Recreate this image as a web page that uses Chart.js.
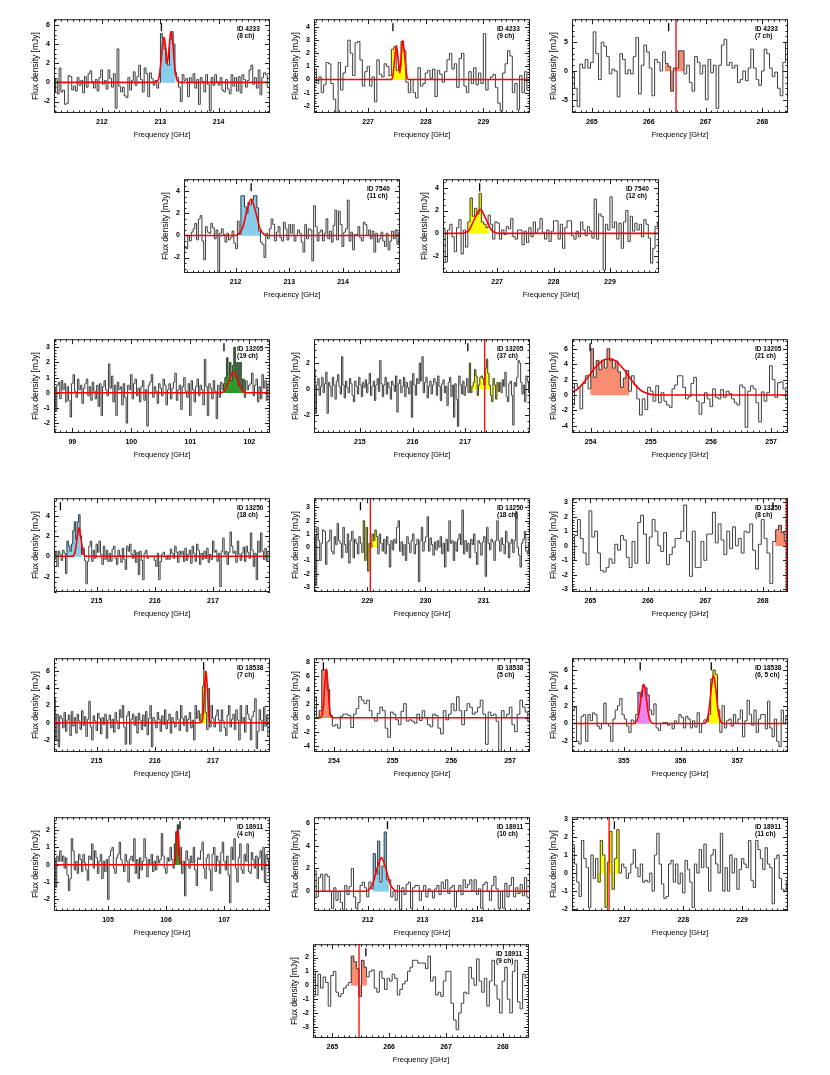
<!DOCTYPE html>
<html>
<head>
<meta charset="utf-8">
<script src="https://cdn.jsdelivr.net/npm/chart.js"></script>
<style>
  body { margin: 0; background: #fff; width: 830px; height: 1075px; position: relative; overflow: hidden; }
  canvas { position: absolute; }
</style>
</head>
<body>
<script>
// ---- spectra (mJy per channel) ----
const spec4233a = [-1.0,0.4,-1.2,1.5,-1.0,-0.8,-2.3,-2.2,0.7,0.6, -0.8,-0.4,-0.9,0.5,-0.3,0.2,-1.1,0.6,-0.5,0.9,
  1.2,0.1,-0.6,0.3,-0.9,0.5,1.3,-0.2,0.2,-0.7, 1.3,0.4,-0.5,0.9,-2.7,3.5,-0.4,-1.0,-0.5,-1.4,
  -1.6,0.5,-0.8,0.2,1.1,-0.3,0.6,1.8,0.3,-1.0, 1.5,0.9,-1.5,1.0,0.4,-0.3,0.2,-0.6,0.0,
  5.1,4.6,3.5,2.0,1.8,4.5,5.3,4.0,
  1.0,0.5,-0.5,-2.0,0.8,0.2,0.4,-1.5,0.5,0.1, 0.9,-0.6,0.3,-2.3,0.5,0.1,-1.0,0.8,-0.2,-3.0,
  0.5,-0.3,0.8,0.1,-0.3,0.5,-0.8,-1.0,0.3,-0.7, -1.2,0.8,-0.4,0.5,-0.9,0.6,-1.1,0.8,0.3,-0.5,
  0.2,1.3,1.8,-0.2,0.5,-0.6,1.3,-1.3,0.5,1.0,0.8,-0.5];
const spec4233b = [0.8,-0.3,0.2,-1.0,-0.4,1.3,1.2,-0.3,-1.5,-2.5, 1.3,-0.8,0.5,1.0,3.0,2.0,0.3,2.8,2.9,1.5,
  -0.5,0.6,1.0,-0.5,0.2,-1.7,1.5,0.4,0.2,1.2, 1.0,0.3,
  2.3,2.5,0.7,1.0,2.9,2.2,
  -0.2,-1.0,0.0,-1.0,-1.4,0.9,-0.5,-0.3,0.5,0.7, 0.1,0.8,-1.3,0.7,0.4,-0.2,0.6,1.5,2.0,0.8,
  1.2,-0.6,1.6,2.0,-0.5,-1.0,0.6,-0.3,0.9,-0.4, 0.5,-0.3,3.5,-0.8,0.0,0.2,0.4,-0.6,-1.8,-2.4,
  0.5,1.2,2.2,1.8,-1.0,-0.3,-2.3,0.3,-1.0,0.6,-0.8];
const spec4233c = [-0.3,-3.0,-6.2,1.2,0.5,2.0,0.5,1.5,6.8,3.0, -1.5,5.0,4.3,2.5,-0.5,0.3,0.0,-4.5,3.0,2.0,
  -0.5,0.2,-0.5,2.5,5.8,-4.0,1.0,4.5,3.3,0.5, -4.3,2.0,1.5,0.0,3.3,1.3,0.8,-3.5,0.5,0.5,
  3.5,3.5,-0.5,1.0,-2.0,-3.5,2.5,1.5,-0.5,1.0, -5.0,2.0,-0.3,1.0,-6.5,1.0,4.5,5.5,1.0,1.5,
  0.5,1.0,-2.0,-1.5,0.0,-1.7,0.5,3.8,0.5,-1.5, -2.5,0.0,3.8,3.0,0.5,-1.0,-0.2,-3.0,-4.3,1.5,5.0];
const spec7540a = [-1.0,-1.2,0.0,-0.5,0.3,0.6,1.1,-0.4,1.5,1.8, -0.5,-2.2,0.8,0.3,0.2,1.1,0.7,-0.3,0.5,-3.3,
  0.2,0.6,0.1,-0.6,0.2,-0.4,-0.2,0.4,-0.7,-1.2, 1.3,0.1,
  3.6,3.6,2.6,2.0,3.0,2.8,3.2,3.6,3.6,2.5,0.4,
  -0.6,-0.8,-2.0,0.2,-0.3,0.6,1.5,1.0,-0.5,0.3, 0.8,-0.2,-0.5,1.2,0.6,-0.4,1.0,0.2,1.0,-0.5,
  0.0,0.5,0.2,-0.6,-1.5,1.0,-0.3,0.6,0.5,-2.3, 2.7,0.8,-0.5,0.3,0.5,-0.5,0.2,1.5,-0.3,0.4,
  -0.6,0.9,2.3,-0.4,2.2,1.0,-1.0,0.3,0.6,3.2, -0.5,0.3,-1.3,0.1,0.1,0.8,-0.2,-0.5,1.2,1.0,
  0.0,0.5,-0.3,0.4,-1.5,0.2,-0.6,-0.3,0.3,-0.5, -1.0,0.2,-1.3,-0.5,0.4,-0.3,0.5,-0.8,0.3];
const spec7540b = [0.3,-2.5,0.3,0.8,-0.3,-1.6,0.5,1.2,-1.8,0.3, -1.2,
  1.0,3.1,1.5,2.2,1.7,3.5,1.0,0.8,0.5,
  1.6,0.8,-0.5,1.0,0.9,-0.5,0.3,-0.1,0.6,0.4, 1.3,-0.3,-0.5,0.3,0.3,-1.0,0.2,-0.8,0.5,-0.3,
  1.0,0.0,0.4,1.3,0.1,-0.5,0.3,-0.7,0.2,1.1, 1.1,-0.5,0.8,-1.3,0.5,1.1,1.1,-0.2,-0.5,0.2,
  -0.3,1.0,0.3,-0.2,0.6,0.2,-0.4,3.0,-0.5,1.7, 1.5,-3.2,0.8,0.3,3.2,0.5,1.0,-0.5,0.9,-1.3,
  1.0,2.0,-0.7,1.5,0.2,0.9,0.3,0.8,-0.3,1.2, 0.8,-0.4,-2.6,-1.3,0.6,0.9];
const spec13205a = [0.3,-1.2,0.5,0.7,-0.4,0.8,0.2,0.6,-0.6,0.4, -0.5,-1.6,0.6,1.2,0.1,-0.3,0.9,0.2,0.5,-0.7,
  0.3,0.6,0.9,-0.2,0.4,-0.5,0.7,0.1,-0.4,0.5, -0.9,0.6,-1.5,0.4,0.8,0.2,-0.2,1.9,0.3,1.1,
  -0.6,0.5,-1.5,0.7,0.2,0.4,-0.8,0.6,-0.3,-2.0, 0.5,0.2,1.2,-0.4,0.6,0.9,-0.2,0.3,-0.6,0.4,
  0.8,-0.5,0.2,-2.2,0.5,0.7,1.2,-0.3,0.4,0.1, -0.7,0.6,0.3,-0.2,0.9,0.5,-0.8,0.2,0.6,-0.4,
  0.3,0.7,1.3,-0.5,0.2,0.5,-1.1,0.4,1.0,0.1, -0.3,0.6,-1.5,0.8,0.2,-0.6,0.4,0.9,-0.2,0.5,
  0.2,-0.8,2.2,0.4,-1.5,0.6,0.3,-0.4,0.8,0.1, -1.7,0.5,-0.3,0.7,0.2,
  0.6,1.0,2.3,1.2,2.0,0.8,1.8,3.0,1.0,2.0,0.5,2.0,0.3,0.9,
  -0.3,0.8,0.2,0.5,0.6,1.3,-0.2,0.5,0.9,-0.6, 0.4,-0.4,1.2,0.3,0.8,-0.5,0.6];
const spec13205b = [1.5,-1.9,0.3,0.8,-0.5,0.2,0.9,-0.3,0.4,1.3, -1.9,0.5,0.2,-0.6,0.9,0.3,-0.8,0.6,1.1,0.2,
  -0.4,2.5,0.3,-0.7,0.6,0.1,-0.3,0.8,0.4,-0.5, -1.0,0.6,0.2,-0.4,0.9,0.3,-0.6,0.5,0.1,0.7,
  -0.3,0.4,1.2,-0.5,0.2,0.6,-0.9,0.3,0.8,-0.2, 2.2,0.4,-0.6,0.3,0.9,-0.4,0.5,0.1,-0.8,0.6,
  0.3,-0.2,1.0,-1.8,0.4,0.7,-0.3,0.2,0.9,-0.6, 0.5,0.1,-0.4,0.6,-2.2,1.2,0.3,-0.5,0.8,0.4,
  2.0,0.6,2.5,-0.3,0.5,0.9,-0.7,0.2,0.6,-0.4, 0.3,0.8,0.5,-0.5,1.0,0.2,-0.9,0.4,0.7,-0.3,
  0.2,-1.3,0.5,0.9,-0.6,0.3,-2.2,0.4,-0.8,-2.9, 1.0,0.3,-0.4,0.6,-0.5,0.2,0.8,-0.3,
  2.0,-0.3,0.2,0.5,1.5,1.0,-0.5,0.3,0.9,1.0,0.8,0.3,1.6,2.3,1.2,0.3,-0.5,-1.0,0.8,0.3,-0.8,0.5,-0.2,
  0.5,-0.3,0.7,0.2,1.3,-0.6,-1.0,0.4,0.6,-0.5, -2.8,0.5,0.2,0.9,2.2,2.0,0.5,-0.4,0.3,-1.0,1.0,0.6,-0.3];
const spec13205c = [-1.3,1.5,1.0,-1.8,1.5,2.5,0.8,
  6.0,2.3,4.5,3.3,4.5,3.5,6.0,4.5,3.5,4.4,3.0,1.0,2.2,3.2,
  0.5,2.5,1.3,-0.5,-2.6,-0.5,-1.9,1.0,0.5,-0.8, 1.2,-1.0,0.3,-0.8,-1.3,-1.6,0.8,1.3,2.5,2.5,
  1.0,-0.5,-0.2,1.5,2.3,-0.8,-2.5,-1.0,0.3,-0.5, -1.5,0.8,-0.3,-0.5,0.7,-0.3,0.5,0.2,-0.5,-1.0,
  -1.3,1.3,1.0,-4.2,0.5,1.2,0.8,-1.0,-3.5,0.4, -0.8,0.3,3.8,2.0,-0.3,1.6,1.7,0.8,-0.5];
const spec13250a = [-0.3,0.5,-1.0,0.5,0.2,-0.4,0.6,0.3,-1.7,
  1.5,1.0,0.5,1.2,2.5,3.4,1.7,3.4,4.1,2.0,
  0.2,0.8,-0.4,-2.7,-0.5,1.0,1.5,-0.5,0.6,-0.2, 1.2,0.4,1.5,0.2,-0.8,1.0,-0.3,0.6,-0.5,0.3,
  -0.5,0.7,1.0,-0.2,-0.8,0.6,0.1,-0.6,0.8,-0.3, -1.3,1.0,0.5,1.2,0.2,-0.2,0.6,-0.6,0.4,-1.8,
  0.5,-0.4,-2.3,0.3,0.6,-0.2,0.0,0.0,0.0,0.0, -0.4,-1.0,0.3,-2.3,-0.5,0.2,0.4,0.0,-0.3,0.1,
  -0.3,0.7,0.3,-0.2,1.0,0.4,-0.6,0.5,0.2,0.5, -0.5,0.8,-0.4,0.2,0.6,-0.7,1.0,0.3,-0.5,1.2,
  0.6,-0.8,0.3,-0.3,0.5,-0.2,0.8,-0.6,0.2,-0.3, 1.5,0.4,0.6,-0.5,0.3,-3.0,0.5,1.8,0.2,0.5,
  -0.8,0.4,2.4,1.0,0.3,0.5,-0.6,1.5,0.2,-0.4, 0.3,0.9,-0.5,1.0,0.4,-0.2,2.3,0.6,-1.0,0.3,
  -2.3,1.5,0.4,2.3,0.5,-0.3,0.8,-0.5,0.5];
const spec13250b = [1.0,-2.9,1.5,0.5,-1.0,0.3,1.3,1.2,-1.3,0.4, 0.5,1.3,-0.3,-0.5,0.8,0.2,1.8,0.5,0.3,-0.8,
  1.5,0.2,-0.4,1.0,-1.2,0.5,1.2,-0.8,0.6,0.3, -0.5,0.8,0.3,-0.4,
  2.0,-1.0,1.5,-1.8,0.3,0.0,1.0,0.5,1.3,0.8,
  -0.5,1.0,0.3,-0.3,0.6,-0.5,0.8,0.2,-1.5,0.5, -0.2,0.6,0.3,1.5,2.0,-0.3,0.4,-0.6,0.2,-1.0,
  0.8,0.3,-0.4,0.5,1.0,-0.5,0.2,0.6,-2.6,0.5, 1.5,-0.3,0.4,0.8,2.3,-0.3,0.7,0.2,-0.6,0.4,
  -0.2,0.5,0.0,0.8,-0.5,0.3,-1.5,0.6,-0.3,2.0, 0.3,0.5,-1.0,0.4,-0.3,0.6,1.0,0.2,2.8,-0.5,
  0.5,-0.3,0.3,-0.8,0.6,0.2,1.0,-0.4,-1.3,0.5, 0.3,-0.6,0.4,0.8,-2.2,1.5,0.3,-0.2,0.6,0.4,
  -1.0,0.5,2.0,0.5,-0.3,0.7,0.2,-0.5,1.2,0.4, -0.8,0.3,0.6,-0.4,0.5,2.7,0.0,-0.6,-1.5,0.3,
  0.6,1.2,-0.3,-0.5,0.4];
const spec13250c = [-1.0,0.7,1.8,0.5,-0.5,-1.3,2.4,0.6,1.0,-0.5, -1.7,-1.8,-1.5,-0.9,-1.2,0.1,-0.3,0.7,0.4,-0.8,
  -1.5,0.3,-1.2,1.6,2.1,0.8,-1.2,0.6,1.8,1.0, 0.0,-0.4,0.9,-1.3,-0.6,-0.1,0.5,0.5,1.0,2.8,
  0.3,-2.1,1.0,-1.5,-1.5,0.3,-1.0,0.8,0.8,2.3, 0.2,1.5,0.4,-0.6,1.0,-0.2,1.3,0.0,0.5,-0.5,
  1.0,0.9,1.5,-0.3,-1.6,0.1,1.8,0.5,-0.5,-2.6, 0.3,1.1,1.4,0.9,0.3];
const spec18538a = [2.8,-2.0,1.0,-2.8,0.8,0.5,-0.6,1.2,-1.0,0.3, 0.9,-1.5,1.3,-0.4,0.6,-1.2,1.0,0.2,-0.8,1.4,
  -0.3,0.7,-1.6,0.4,2.5,-0.5,-2.0,0.8,0.2,-0.9, 1.1,0.5,-1.3,0.6,-0.2,1.0,-1.8,0.3,0.9,-0.6,
  0.4,-1.1,1.2,0.2,-0.7,1.5,0.6,2.0,-0.5,-2.5, 0.8,1.3,-2.5,0.4,1.0,-0.3,0.7,-1.2,1.1,0.3,
  -0.8,0.9,-0.4,1.3,-1.4,0.5,2.0,-2.8,0.6,0.2, -0.6,1.2,0.4,-1.0,0.8,-0.2,1.5,-0.7,0.3,1.0,
  -1.2,0.6,0.1,-0.5,1.3,0.4,-0.9,2.0,0.5,-0.3, 0.8,-1.0,0.4,1.2,-0.6,0.3,-2.0,2.0,0.5,1.4,0.2,
  1.0,4.2,6.0,1.2,
  -0.8,4.0,-0.5,2.0,0.5,-0.5,0.8,1.5,0.3,-1.0, 1.5,0.2,-0.6,-1.5,0.9,2.0,-0.5,0.4,1.0,-0.8,
  1.5,0.3,-2.0,2.0,0.0,0.6,-1.1,2.0,1.0,0.4, -2.0,0.7,1.3,2.8,-3.0,-1.0,1.5,0.3,-0.9,1.8,-0.4,0.9,-1.6];
const spec18538b = [3.0,0.0,
  1.0,6.8,6.8,4.0,0.3,
  -1.2,-1.0,-1.5,0.2,0.5,0.5,0.3,-1.4,0.5,1.3, 3.0,2.5,2.0,2.5,1.0,0.0,-0.5,0.6,1.5,1.0,
  -1.5,-2.8,0.8,0.5,-0.3,-1.0,0.9,2.0,-0.5,-0.3, -0.5,-0.8,0.5,-0.4,1.0,0.0,-1.0,-1.3,0.5,0.3,
  -1.5,-2.3,1.0,-0.3,0.5,2.0,1.0,3.0,1.0,-1.0, 1.0,2.0,1.5,0.5,0.8,1.5,2.5,0.5,-3.8,0.8,
  0.3,0.5,-0.5,-4.8,1.0,0.0,0.5,1.5,-1.0,-2.0, 0.5,2.5,1.5,0.8,-0.5];
const spec18538c = [1.5,1.8,-2.0,-2.3,0.8,1.0,-2.0,1.0,0.3,1.2, 1.0,-0.3,-0.6,0.0,2.3,0.0,-0.3,-2.0,0.5,1.5,
  2.0,2.8,1.0,0.5,-0.3,-1.0,0.4,0.2,1.0,
  3.5,3.0,4.3,4.0,3.2,
  1.5,1.0,2.2,-0.5,-0.8,0.0,0.1,0.1,-0.2,0.0, -0.6,0.3,0.0,1.0,0.7,-0.5,0.8,0.5,-0.5,0.3,
  -0.4,1.2,-1.0,0.0,0.4,0.2,
  1.0,5.0,6.0,5.5,1.5,
  -1.0,2.0,-0.5,0.3,0.5,-0.3,1.0,0.0,0.5,1.5, -1.5,0.3,2.6,1.0,-0.2,1.5,-1.0,0.5,1.0,1.0,
  -0.6,2.5,-0.5,-1.5,0.5,-2.0,-2.6,1.5,0.0,0.8];
const spec18911a = [0.3,-1.3,0.5,0.2,0.8,0.2,0.5,-0.2,0.4,-0.6, -1.5,-0.8,1.5,0.8,-0.3,0.2,-0.5,0.6,0.3,-0.4,
  0.6,0.1,-0.3,-0.9,0.5,0.3,1.2,-0.2,0.8,0.4, -0.5,0.2,0.6,-0.8,0.2,-0.4,0.3,-2.0,0.5,0.8,
  1.0,-0.2,-0.5,0.4,0.6,1.3,0.3,0.0,-0.4,0.6, 0.2,-1.0,0.3,0.5,0.2,1.5,-0.5,0.3,-0.8,0.4,
  -0.3,0.2,1.5,0.4,-0.7,0.3,0.0,0.6,-0.4,0.2, -0.3,0.5,0.1,0.3,1.8,0.5,-0.2,-0.5,0.4,0.2,
  1.0,0.3,-0.2,
  1.2,1.9,2.3,0.5,
  1.0,-0.5,0.2,-1.8,0.8,0.3,-0.2,0.5,0.1,1.0, -0.3,-1.2,0.4,0.3,0.8,1.3,-0.2,-0.8,0.4,0.6,
  -0.3,-1.5,0.6,1.0,-0.4,0.5,0.2,-0.5,0.7,1.3, 0.2,-0.3,0.5,-0.6,-2.2,1.0,0.3,1.5,-0.2,-1.0,
  0.4,1.2,-0.3,-0.5,0.6,0.2,1.2,-0.4,-0.5,0.7, 0.3,-0.2,0.5,-0.8,0.4,0.8,-0.3,1.0,-1.0,0.6,0.3,-0.4];
const spec18911b = [1.8,-0.5,1.2,1.5,0.0,1.5,1.3,0.0,-1.5,0.3, -0.8,0.0,-1.0,-1.6,0.5,-0.3,0.4,2.0,-0.5,-1.5,
  -1.0,0.5,0.8,0.3,-0.5,0.8,0.2,
  3.3,1.5,4.4,0.8,2.2,5.2,1.0,
  1.0,-0.5,0.0,-0.8,0.5,-1.6,0.3,-0.3,0.6,0.8, -1.5,0.3,0.5,0.5,-0.8,0.0,0.5,-0.5,0.2,0.0,
  -0.6,0.2,0.5,-0.3,0.8,0.2,1.0,-0.2,0.3,0.5, -1.4,0.0,0.5,-0.3,1.0,0.3,0.6,1.0,0.0,1.0,
  -0.3,0.2,-1.5,0.6,0.8,0.0,-0.8,0.5,1.3,0.2, -1.5,0.0,-1.5,0.7,-0.5,0.5,1.2,-0.5,0.3,-0.2,
  0.6,-0.4,1.2,-0.5];
const spec18911c = [1.5,0.5,-0.5,-1.3,1.8,0.8,0.3,-1.9,1.0,-0.3,0.8,
  -0.5,1.8,1.0,-1.9,0.6,2.3,-0.9,0.8,2.4,
  0.0,0.5,0.3,-0.3,0.0,0.5,1.3,0.3,-0.2,0.5, -0.5,-0.4,-0.5,0.0,-1.0,1.0,2.2,0.5,-0.6,-1.4,
  -1.3,0.5,0.7,-0.5,0.5,-0.6,0.0,-1.1,0.7,0.2, -0.5,-1.9,0.5,0.0,1.3,0.3,1.6,0.3,-1.0,1.0,
  1.3,0.5,0.0,2.2,-1.0,0.3,-1.0,1.0,0.0,0.8, -0.9,0.2,0.8,0.5,0.3,1.8,-0.4,-0.8,1.8,1.3,
  0.8,0.2,1.4,0.5,0.3,-1.7,0.8,1.0,-0.3,-0.9,-1.0,-0.5];
const spec18911d = [1.0,-0.7,0.8,-0.2,0.6,0.2,-1.5,0.7,1.0,-0.5, -0.8,-0.6,-0.2,0.0,0.2,
  2.1,1.7,1.2,-0.8,1.8,1.3,
  0.6,1.0,1.1,-0.2,-0.5,1.0,0.5,-0.3,0.5,0.3, 0.8,0.5,-0.7,-0.3,0.1,0.3,1.0,1.3,1.8,1.8,
  1.6,1.6,1.6,1.2,2.1,0.3,0.6,-0.7,-0.5,-0.8, 0.3,1.0,1.0,-1.3,-2.5,-3.2,-2.0,-1.3,-0.5,-0.6,
  1.3,0.5,0.0,1.9,0.3,-0.5,0.5,-1.5,0.3,1.8, 0.0,-1.0,-2.0,0.3,1.3,-1.0,-2.0,1.0,1.8,-1.2,
  -1.7,0.8,0.5];

// ---- fitted Gaussian profiles, sampled from the red curves [GHz, mJy] ----
const fit4233a = [[211.18,0],[212.9,0],[212.97,0.3],[213.01,2.0],[213.05,4.5],[213.065,4.7],[213.09,3.8],[213.12,1.9],
  [213.15,3.5],[213.18,5.3],[213.21,4.5],[213.25,1.5],[213.29,0.2],[213.33,0],[214.88,0]];
const fit4233b = [[226.06,0],[227.4,0],[227.43,0.3],[227.47,2.0],[227.49,2.6],[227.52,1.6],[227.55,0.5],[227.57,1.5],
  [227.6,3.0],[227.63,2.0],[227.67,0.3],[227.7,0],[229.81,0]];
const fit7540a = [[211.04,0],[211.99,0],[212.05,0.09],[212.13,0.68],[212.21,2.22],[212.29,3.3],[212.37,2.22],
  [212.45,0.68],[212.53,0.09],[212.59,0],[215.06,0]];
const fit7540b = [[226.04,0],[226.35,0],[226.42,0.05],[226.5,0.28],[226.6,1.27],[226.7,2.1],[226.8,1.27],[226.9,0.28],
  [226.98,0.05],[227.05,0],[229.87,0]];
const fit13205a = [[98.69,0],[101.5,0],[101.59,0.19],[101.66,0.84],[101.73,1.38],[101.8,0.84],[101.87,0.19],[101.96,0],[102.35,0]];
const fit13205c = [[253.69,0.3],[253.8,0.9],[253.9,1.8],[254.0,2.8],[254.1,3.8],[254.2,4.5],[254.31,4.7],[254.42,4.4],
  [254.52,3.6],[254.62,2.6],[254.72,1.5],[254.82,0.7],[254.92,0.25],[255.02,0.05],[255.15,0],[257.28,0]];
const fit13250a = [[214.27,0],[214.58,0],[214.63,0.38],[214.665,1.7],[214.7,2.8],[214.735,1.7],[214.77,0.38],[214.82,0],[217.98,0]];
const fit18538a = [[214.27,0],[216.78,0],[216.82,0.3],[216.84,1.7],[216.86,4.4],[216.88,6.0],[216.9,4.4],[216.92,1.7],
  [216.94,0.3],[216.98,0],[217.98,0]];
const fit18538b = [[253.66,0],[253.77,0],[253.795,0.3],[253.82,1.75],[253.845,4.9],[253.87,7.0],[253.895,4.9],[253.92,1.75],
  [253.945,0.3],[253.98,0],[257.34,0]];
const fit18538c = [[354.09,0],[355.18,0],[355.23,0.25],[355.27,1.22],[355.31,3.2],[355.35,4.4],[355.39,3.2],[355.43,1.22],
  [355.47,0.25],[355.52,0],[356.41,0],[356.46,0.3],[356.5,1.5],[356.54,3.9],[356.58,5.4],[356.62,3.9],[356.66,1.5],
  [356.7,0.3],[356.75,0],[357.89,0]];
const fit18911a = [[104.07,0],[106.13,0],[106.155,0.16],[106.17,0.65],[106.185,1.5],[106.2,2.0],[106.215,1.5],[106.23,0.65],
  [106.245,0.16],[106.27,0],[107.79,0]];
const fit18911b = [[211.02,0],[211.95,0],[212.01,0.08],[212.09,0.61],[212.17,1.99],[212.25,2.95],[212.33,1.99],[212.41,0.61],
  [212.49,0.08],[212.55,0],[214.96,0]];

const FONT = "'Liberation Sans', Arial, sans-serif";
const RED = '#ff0000', BLUE = '#87ceeb', YEL = '#ffff00', SAL = '#fa8c72', GRN = '#2b9a2b', VIO = '#ee82ee';
const BOX_W = 216, BOX_H = 96, PAD_L = 50, PAD_T = 6, PAD_R = 8, PAD_B = 34;

const panels = [
  {id:'ID 4233', nch:'(8 ch)', left:54, top:17, f0:211.19, df:0.031, spec:spec4233a, fit:fit4233a,
   x:[211.18,214.88], xt:[212,213,214], y:[-3.2,6.6], yt:[-2,0,2,4,6], ym:0.5, lines:[[59,8,BLUE]], marks:[213.02], vline:null},
  {id:'ID 4233', nch:'(9 ch)', left:314, top:17, f0:226.08, df:0.042, spec:spec4233b, fit:fit4233b,
   x:[226.06,229.81], xt:[227,228,229], y:[-2.55,4.6], yt:[-2,-1,0,1,2,3,4], ym:0.2, lines:[[32,6,YEL]], marks:[227.43], vline:null},
  {id:'ID 4233', nch:'(7 ch)', left:572, top:17, f0:264.67, df:0.047, spec:spec4233c, fit:null,
   x:[264.65,268.45], xt:[265,266,267,268], y:[-7.3,9.0], yt:[-5,0,5], ym:1, lines:[[35,7,SAL]], marks:[266.35], vline:266.48},
  {id:'ID 7540', nch:'(11 ch)', left:184, top:177, f0:211.06, df:0.033, spec:spec7540a, fit:fit7540a,
   x:[211.04,215.06], xt:[212,213,214], y:[-3.4,5.1], yt:[-2,0,2,4], ym:0.5, lines:[[32,11,BLUE]], marks:[212.29], vline:null},
  {id:'ID 7540', nch:'(12 ch)', left:443, top:177, f0:226.06, df:0.04, spec:spec7540b, fit:fit7540b,
   x:[226.04,229.87], xt:[227,228,229], y:[-3.46,4.74], yt:[-2,0,2,4], ym:0.5, lines:[[11,9,YEL]], marks:[226.69], vline:null},
  {id:'ID 13205', nch:'(19 ch)', left:54, top:337, f0:98.70, df:0.025, spec:spec13205a, fit:fit13205a,
   x:[98.69,102.35], xt:[99,100,101,102], y:[-2.65,3.53], yt:[-2,-1,0,1,2,3], ym:0.2, lines:[[115,14,GRN]], marks:[101.57], vline:null},
  {id:'ID 13205', nch:'(37 ch)', left:314, top:337, f0:214.14, df:0.025, spec:spec13205b, fit:null,
   x:[214.13,218.23], xt:[215,216,217], y:[-3.42,3.85], yt:[-2,0,2], ym:0.5, lines:[[118,23,YEL]], marks:[217.05], vline:217.37},
  {id:'ID 13205', nch:'(21 ch)', left:572, top:337, f0:253.71, df:0.045, spec:spec13205c, fit:fit13205c,
   x:[253.69,257.28], xt:[254,255,256,257], y:[-4.93,7.25], yt:[-4,-2,0,2,4,6], ym:0.5, lines:[[7,14,SAL]], marks:[253.99], vline:null},
  {id:'ID 13250', nch:'(18 ch)', left:54, top:496, f0:214.28, df:0.025, spec:spec13250a, fit:fit13250a,
   x:[214.27,217.98], xt:[215,216,217], y:[-3.52,5.73], yt:[-2,0,2,4], ym:0.5, lines:[[9,10,BLUE]], marks:[214.38], vline:null},
  {id:'ID 13250', nch:'(18 ch)', left:314, top:496, f0:228.09, df:0.025, spec:spec13250b, fit:null,
   x:[228.08,231.80], xt:[229,230,231], y:[-3.38,3.7], yt:[-3,-2,-1,0,1,2,3], ym:0.2, lines:[[34,10,YEL]], marks:[228.88], vline:229.05},
  {id:'ID 13250', nch:'(8 ch)', left:572, top:496, f0:264.70, df:0.05, spec:spec13250c, fit:null,
   x:[264.68,268.44], xt:[265,266,267,268], y:[-3.18,3.27], yt:[-3,-2,-1,0,1,2,3], ym:0.2, lines:[[71,4,SAL]], marks:[268.18], vline:268.41},
  {id:'ID 18538', nch:'(7 ch)', left:54, top:656, f0:214.28, df:0.025, spec:spec18538a, fit:fit18538a,
   x:[214.27,217.98], xt:[215,216,217], y:[-3.4,7.5], yt:[-2,0,2,4,6], ym:0.5, lines:[[101,4,YEL]], marks:[216.84], vline:null},
  {id:'ID 18538', nch:'(5 ch)', left:314, top:656, f0:253.68, df:0.045, spec:spec18538b, fit:fit18538b,
   x:[253.66,257.34], xt:[254,255,256,257], y:[-4.9,8.5], yt:[-4,-2,0,2,4,6,8], ym:0.5, lines:[[2,5,SAL]], marks:[253.82], vline:null},
  {id:'ID 18538', nch:'(6, 5 ch)', left:572, top:656, f0:354.11, df:0.04, spec:spec18538c, fit:fit18538c,
   x:[354.09,357.89], xt:[355,356,357], y:[-3.2,7.33], yt:[-2,0,2,4,6], ym:0.5, lines:[[29,5,VIO],[60,5,YEL]], marks:[355.29,356.54], vline:null},
  {id:'ID 18911', nch:'(4 ch)', left:54, top:815, f0:104.08, df:0.025, spec:spec18911a, fit:fit18911a,
   x:[104.07,107.79], xt:[105,106,107], y:[-2.67,2.74], yt:[-2,-1,0,1,2], ym:0.2, lines:[[83,4,GRN]], marks:[106.24], vline:null},
  {id:'ID 18911', nch:'(10 ch)', left:314, top:815, f0:211.04, df:0.04, spec:spec18911b, fit:fit18911b,
   x:[211.02,214.96], xt:[212,213,214], y:[-1.74,6.5], yt:[0,2,4,6], ym:0.5, lines:[[27,7,BLUE]], marks:[212.36], vline:null},
  {id:'ID 18911', nch:'(11 ch)', left:572, top:815, f0:226.13, df:0.04, spec:spec18911c, fit:null,
   x:[226.11,229.78], xt:[227,228,229], y:[-2.1,3.09], yt:[-2,-1,0,1,2,3], ym:0.2, lines:[[11,9,YEL]], marks:[226.83], vline:226.74},
  {id:'ID 18911', nch:'(9 ch)', left:313, top:942, f0:264.68, df:0.045, spec:spec18911d, fit:null,
   x:[264.66,268.46], xt:[265,266,267,268], y:[-3.8,2.96], yt:[-3,-2,-1,0,1,2], ym:0.2, lines:[[15,6,SAL]], marks:[265.59], vline:265.47}
];

// frame with inward ticks on all sides, line markers, red reference line, ID text
function decor(p) {
  return {
    id: 'decor',
    afterDatasetsDraw(chart) {
      const {ctx, chartArea: a, scales: {x, y}} = chart;
      const seg = (x1, y1, x2, y2) => { ctx.beginPath(); ctx.moveTo(x1, y1); ctx.lineTo(x2, y2); ctx.stroke(); };
      ctx.save();
      if (p.vline !== null) {
        const px = x.getPixelForValue(p.vline);
        ctx.strokeStyle = RED; ctx.lineWidth = 1.3;
        seg(px, a.top, px, a.bottom);
      }
      ctx.strokeStyle = '#000'; ctx.lineWidth = 1.3;
      p.marks.forEach(m => { const px = x.getPixelForValue(m); seg(px, a.top + 4, px, a.top + 12); });

      ctx.strokeStyle = '#222'; ctx.lineWidth = 1;
      ctx.strokeRect(a.left + 0.5, a.top + 0.5, a.width - 1, a.height - 1);
      const xs = (v, len) => { const px = Math.round(x.getPixelForValue(v)) + 0.5; seg(px, a.bottom, px, a.bottom - len); seg(px, a.top, px, a.top + len); };
      const ys = (v, len) => { const py = Math.round(y.getPixelForValue(v)) + 0.5; seg(a.left, py, a.left + len, py); seg(a.right, py, a.right - len, py); };
      for (let v = Math.ceil(p.x[0] * 10) / 10; v < p.x[1]; v = Math.round((v + 0.1) * 10) / 10) xs(v, 2.5);
      p.xt.forEach(v => xs(v, 5));
      for (let v = Math.ceil(p.y[0] / p.ym) * p.ym; v < p.y[1]; v += p.ym) ys(v, 2.5);
      p.yt.forEach(v => ys(v, 5));

      ctx.fillStyle = '#000'; ctx.font = 'bold 6.5px ' + FONT; ctx.textBaseline = 'middle';
      ctx.fillText(p.id, a.right - 33, a.top + 10.5);
      ctx.fillText(p.nch, a.right - 33, a.top + 17.5);
      ctx.restore();
    }
  };
}

function makePanel(p) {
  const cv = document.createElement('canvas');
  const W = BOX_W + PAD_L + PAD_R, H = BOX_H + PAD_T + PAD_B;
  cv.width = W; cv.height = H;
  cv.style.left = (p.left - PAD_L) + 'px';
  cv.style.top = (p.top - PAD_T) + 'px';
  cv.style.width = W + 'px'; cv.style.height = H + 'px';
  document.body.appendChild(cv);

  const specPts = p.spec.map((v, i) => ({x: p.f0 + i * p.df, y: v}));
  const fillPts = [], fillCols = [];
  p.lines.forEach(([s, n, c]) => {
    for (let i = s; i < s + n; i++) { fillPts.push(specPts[i]); fillCols.push(c); }
  });

  const datasets = [];
  if (p.fit) {
    datasets.push({type: 'line', data: p.fit.map(([x, y]) => ({x, y})), borderColor: RED, borderWidth: 1.6,
      pointRadius: 0, cubicInterpolationMode: 'monotone', order: 1});
  }
  datasets.push({type: 'line', data: specPts, stepped: 'middle', borderColor: '#3c3c3c', borderWidth: 1,
    pointRadius: 0, order: 2});
  datasets.push({type: 'bar', data: fillPts, backgroundColor: fillCols, borderWidth: 0,
    barPercentage: 1, categoryPercentage: 1, order: 3});

  new Chart(cv, {
    type: 'line',
    data: {datasets},
    options: {
      responsive: false, animation: false, events: [],
      layout: {padding: {left: 0, top: PAD_T, right: PAD_R, bottom: 0}},
      plugins: {legend: {display: false}, tooltip: {enabled: false}},
      scales: {
        x: {
          type: 'linear', min: p.x[0], max: p.x[1], offset: false,
          grid: {display: false, drawTicks: false}, border: {display: false},
          afterBuildTicks: s => { s.ticks = p.xt.map(v => ({value: v})); },
          afterFit: s => { s.height = PAD_B; },
          ticks: {font: {family: FONT, size: 7, weight: 'bold'}, color: '#000', padding: 5, maxRotation: 0, autoSkip: false},
          title: {display: true, text: 'Frequency [GHz]', font: {family: FONT, size: 7.5}, color: '#000', padding: {top: 0, bottom: 8}}
        },
        y: {
          type: 'linear', min: p.y[0], max: p.y[1],
          grid: {display: false, drawTicks: false}, border: {display: false},
          afterBuildTicks: s => { s.ticks = p.yt.map(v => ({value: v})); },
          afterFit: s => { s.width = PAD_L; },
          ticks: {font: {family: FONT, size: 7, weight: 'bold'}, color: '#000', padding: 4, autoSkip: false},
          title: {display: true, text: 'Flux density [mJy]', font: {family: FONT, size: 8.5}, color: '#000', padding: {top: 26.5, bottom: 0}}
        }
      }
    },
    plugins: [decor(p)]
  });
}

panels.forEach(makePanel);
</script>
</body>
</html>
